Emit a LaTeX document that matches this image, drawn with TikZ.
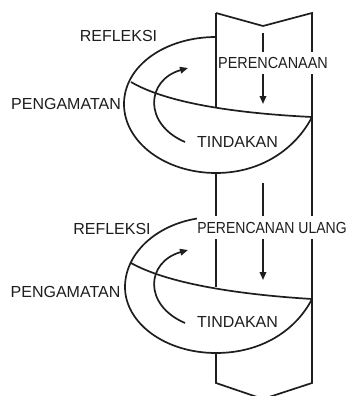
\documentclass[tikz,border=0pt]{standalone}
\usepackage{fontspec}
\usepackage{graphicx}
\setmainfont{Liberation Sans}
\usetikzlibrary{arrows.meta}
\definecolor{ink}{HTML}{1E1E1E}
\tikzset{
  ln/.style={draw=ink, line width=1.7pt, line join=miter},
  arr/.style={ln, -{Triangle[width=6.5pt,length=8pt]}},
  lbl/.style={text=ink, font=\fontsize{16}{18}\selectfont, inner sep=0pt, text height=11.5pt, text depth=0pt},
  cover/.style={lbl, fill=white, inner xsep=0.5pt},
}
\begin{document}
\begin{tikzpicture}[x=1pt,y=-1pt]
\useasboundingbox (0,0) rectangle (350,396);
\fill[white] (0,0) rectangle (350,396);
% coordinates
\coordinate (tl) at (216,13);
\coordinate (tv) at (263,26);
\coordinate (tr) at (312,13);
\coordinate (bl) at (216,383);
\coordinate (bv) at (263,399);
\coordinate (br) at (312,383);
% loop 1
\coordinate (a1) at (216,37);
\coordinate (l1) at (124,104);
\coordinate (b1) at (216,173);
\coordinate (r1) at (312,117);
\coordinate (d1) at (131,82);
\coordinate (j1) at (216,107);
% loop 2
\coordinate (a2) at (216,217);
\coordinate (l2) at (125,287);
\coordinate (b2) at (216,353);
\coordinate (r2) at (312,299);
\coordinate (d2) at (131,263);
\coordinate (j2) at (216,287);
% arrows positions
\coordinate (s1) at (263,33);
\coordinate (e1) at (263,104);
\coordinate (s2) at (263,183);
\coordinate (e2) at (263,280);
\coordinate (cs1) at (185,142);
\coordinate (ce1) at (188,68);
\coordinate (cs2) at (185,323);
\coordinate (ce2) at (188,250);

% outer posts
\draw[ln] (tl) -- (tv) -- (tr) -- (br) -- (bv) -- (bl) -- (b2);
\draw[ln] (tl) -- (j1);
\draw[ln] (b1) -- (j2);

% loop 1
\draw[ln] (a1) .. controls (165,37) and (124,66) .. (l1)
  .. controls (124,142) and (165,173) .. (b1)
  .. controls (262,173) and (296,148) .. (r1);
\draw[ln] (d1) .. controls (165,102) and (230,113) .. (r1);
% loop 2
\draw[ln] (a2) .. controls (165,217) and (125,249) .. (l2)
  .. controls (125,323) and (165,353) .. (b2)
  .. controls (262,353) and (296,330) .. (r2);
\draw[ln] (d2) .. controls (165,282) and (230,294) .. (r2);

% vertical arrows
\draw[arr] (s1) -- (e1);
\draw[arr] (s2) -- (e2);

% curved arrows
\draw[arr] (cs1) .. controls (143,124) and (146,80) .. (ce1);
\draw[arr] (cs2) .. controls (143,305) and (146,262) .. (ce2);

% labels
\node[cover, inner ysep=5pt] (plan) at (273,63) {\scalebox{0.9}[1]{PERENCANAAN}};
\node[cover, inner ysep=5.5pt] (replan) at (272,227.5) {\scalebox{0.875}[1]{PERENCANAN ULANG}};
\node[lbl] (ref1) at (118.5,36) {REFLEKSI};
\node[lbl] (obs1) at (66,104) {PENGAMATAN};
\node[lbl] (act1) at (237.5,142) {TINDAKAN};
\node[lbl] (ref2) at (112,228.5) {REFLEKSI};
\node[lbl] (obs2) at (65.5,292) {PENGAMATAN};
\node[lbl] (act2) at (237.5,322) {TINDAKAN};
\end{tikzpicture}
\end{document}
